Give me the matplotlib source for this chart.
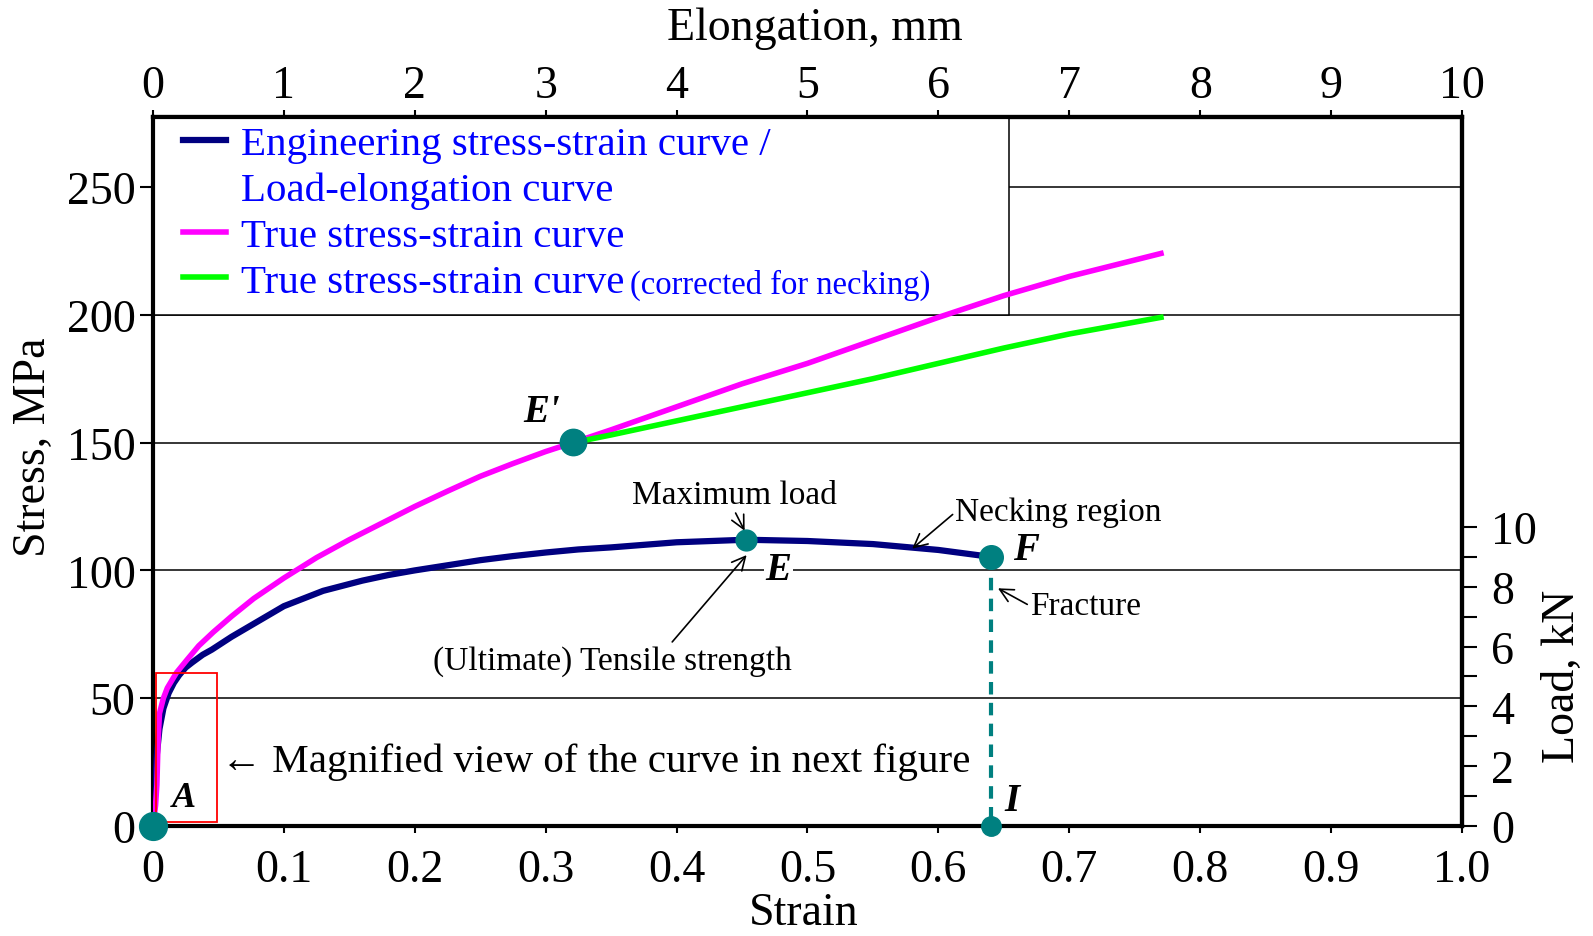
import matplotlib
matplotlib.use('Agg')
import matplotlib.pyplot as plt
from matplotlib.lines import Line2D
from matplotlib.patches import Rectangle

plt.rcParams['font.family'] = ['Liberation Serif', 'DejaVu Serif']

# engineering stress-strain (= load-elongation) curve
eng_strain = [0, 0.001, 0.002, 0.003, 0.005, 0.008, 0.012, 0.016, 0.02, 0.025, 0.03,
              0.038, 0.045, 0.06, 0.08, 0.1, 0.115, 0.13, 0.16, 0.18, 0.2, 0.225,
              0.25, 0.275, 0.3, 0.325, 0.35, 0.4, 0.453, 0.5, 0.55, 0.6, 0.64]
eng_stress = [0, 8, 18, 28, 38, 46, 52, 56, 59, 62, 64,
              67, 69, 74, 80, 86, 89, 92, 96, 98.2, 100, 102,
              104, 105.6, 107, 108.2, 109, 111, 112, 111.5, 110.3, 108, 105.3]

# true stress-strain curve
true_strain = [0, 0.002, 0.003, 0.004, 0.005, 0.008, 0.011, 0.018, 0.026, 0.035, 0.046,
               0.06, 0.077, 0.1, 0.125, 0.15, 0.175, 0.2, 0.225, 0.25, 0.275, 0.3,
               0.321, 0.35, 0.375, 0.4, 0.425, 0.45, 0.475, 0.5, 0.55, 0.6, 0.65,
               0.7, 0.77]
true_stress = [0, 8, 16, 34, 44, 50, 54, 60, 65, 70.5, 75.8,
               82, 89, 97, 105, 112, 118.5, 125, 131, 136.8, 141.8, 146.5,
               150, 155, 159.5, 164, 168.5, 173, 177, 181, 190, 199, 207.5,
               215, 224]

# true stress-strain corrected for necking
corr_strain = [0.321, 0.35, 0.4, 0.45, 0.5, 0.55, 0.6, 0.65, 0.7, 0.77]
corr_stress = [150, 153, 158.5, 164, 169.5, 175, 181, 187, 192.5, 199]

# labelled points
pt_names = ['A', 'E', "E'", 'F', 'I']
pt_strain = [0, 0.453, 0.321, 0.64, 0.64]
pt_stress = [0, 112, 150.3, 105.3, 0]

MPA_PER_KN = 11.7
YMAX = 277.4

navy = '#000080'
magenta = '#ff00ff'
green = '#00ff00'
teal = '#008080'

fig = plt.figure(figsize=(15.93, 9.37), dpi=100)
ax = fig.add_axes([0.0960, 0.1174, 0.8218, 0.7567])

ax.set_xlim(0, 1.0)
ax.set_ylim(0, YMAX)
ax.set_xticks([i / 10 for i in range(11)])
ax.set_xticklabels(['0'] + [f'{i / 10:.1f}' for i in range(1, 11)])
ax.set_yticks(range(0, 251, 50))
ax.yaxis.grid(True, color='black', lw=1.1)
ax.tick_params(axis='both', direction='out', width=1.5, labelsize=33)
ax.tick_params(axis='x', length=5, pad=11)
ax.tick_params(axis='y', length=9.5, pad=3)
for sp in ax.spines.values():
    sp.set_linewidth(3)

# legend frame covering the grid
ax.add_patch(Rectangle((0, 200), 0.654, YMAX - 200, facecolor='white',
                       edgecolor='black', lw=1.1, zorder=1.6))

ax.plot(eng_strain, eng_stress, color=navy, lw=4.5, zorder=3)
ax.plot(true_strain, true_stress, color=magenta, lw=4, zorder=3)
ax.plot(corr_strain, corr_stress, color=green, lw=4, zorder=3)

# fracture drop line F -> I
ax.plot([pt_strain[3], pt_strain[4]], [pt_stress[3], pt_stress[4]], color=teal,
        lw=3, dashes=(3, 2), zorder=3)

marker_sizes = [20, 15, 19, 17, 14]
for xs, ys, ms in zip(pt_strain, pt_stress, marker_sizes):
    ax.plot(xs, ys, 'o', color=teal, ms=ms, zorder=4, clip_on=False)

lab = dict(fontsize=28, fontweight='bold', fontstyle='italic', ha='center', va='center')
ax.text(0.024, 11, 'A', **dict(lab, fontsize=26))
ax.text(0.478, 100.2, 'E', bbox=dict(facecolor='white', edgecolor='none', pad=1), **lab)
ax.text(0.297, 162, "E'", **lab)
ax.text(0.667, 108, 'F', **lab)
ax.text(0.656, 10, 'I', **lab)

arrow = dict(arrowstyle='->', color='black', lw=1.2, shrinkA=0, shrinkB=0)
note = dict(fontsize=24, va='center')
ax.annotate('Maximum load', xy=(0.452, 115.5), xytext=(0.444, 129.5), ha='center',
            arrowprops=dict(arrow, relpos=(0.5, 0)), **note)
ax.annotate('Necking region', xy=(0.58, 108.5), xytext=(0.613, 122.8), ha='left',
            arrowprops=dict(arrow, relpos=(0, 0.5)), **note)
ax.annotate('Fracture', xy=(0.6455, 93), xytext=(0.670, 86.1), ha='left',
            arrowprops=dict(arrow, relpos=(0, 0.5)), **note)
ax.annotate('(Ultimate) Tensile strength', xy=(0.4535, 106), xytext=(0.351, 64.9),
            ha='center', arrowprops=dict(arrow, relpos=(0.66, 1)), **note)

# magnified region box
ax.add_patch(Rectangle((0.0025, 1.5), 0.0465, 58.5, facecolor='none',
                       edgecolor='red', lw=1.3, zorder=3.5))
ax.text(0.052, 25.4, '\u2190 Magnified view of the curve in next figure',
        fontsize=29.5, va='center', ha='left')

handles = [Line2D([], [], color=navy, lw=4.5),
           Line2D([], [], color='none'),
           Line2D([], [], color=magenta, lw=4),
           Line2D([], [], color=green, lw=4)]
labels = ['Engineering stress-strain curve /', 'Load-elongation curve',
          'True stress-strain curve', 'True stress-strain curve']
leg = ax.legend(handles, labels, loc='upper left', bbox_to_anchor=(0.023, 0.988),
                frameon=False, fontsize=29.5, labelcolor='blue', handlelength=1.05,
                handletextpad=0.37, labelspacing=0.2, borderpad=0, borderaxespad=0)
ax.annotate('(corrected for necking)', xy=(1, 0.22), xycoords=leg.get_texts()[3],
            xytext=(4, 0), textcoords='offset points', va='baseline', ha='left',
            fontsize=23.5, color='blue', zorder=6)

# elongation axis on top, load axis on the right
top = ax.secondary_xaxis('top', functions=(lambda x: x * 10, lambda e: e / 10))
top.set_xticks(range(0, 11))
top.tick_params(direction='out', length=5, width=1.5, labelsize=33, pad=2)
top.spines['top'].set_linewidth(3)
top.set_xlabel('Elongation, mm', fontsize=33)
top.xaxis.set_label_coords(0.506, 1.126, transform=ax.transAxes)
top.xaxis.label.set_va('center')

right = ax.secondary_yaxis('right', functions=(lambda s: s / MPA_PER_KN,
                                               lambda k: k * MPA_PER_KN))
right.set_yticks(range(0, 11, 2))
right.set_yticks(range(0, 11), minor=True)
right.tick_params(which='both', direction='out', length=11, width=1.5, labelsize=33,
                  pad=10)
right.spines['right'].set_linewidth(3)
right.set_ylabel('Load, kN', fontsize=33)
right.yaxis.set_label_coords(1.077, 0.213, transform=ax.transAxes)
right.yaxis.label.set_va('center')

ax.set_xlabel('Strain', fontsize=33)
ax.xaxis.set_label_coords(0.497, -0.123)
ax.xaxis.label.set_va('center')
ax.set_ylabel('Stress, MPa', fontsize=33)
ax.yaxis.set_label_coords(-0.091, 0.536)
ax.yaxis.label.set_va('center')

fig.savefig('out.png', dpi=100)
